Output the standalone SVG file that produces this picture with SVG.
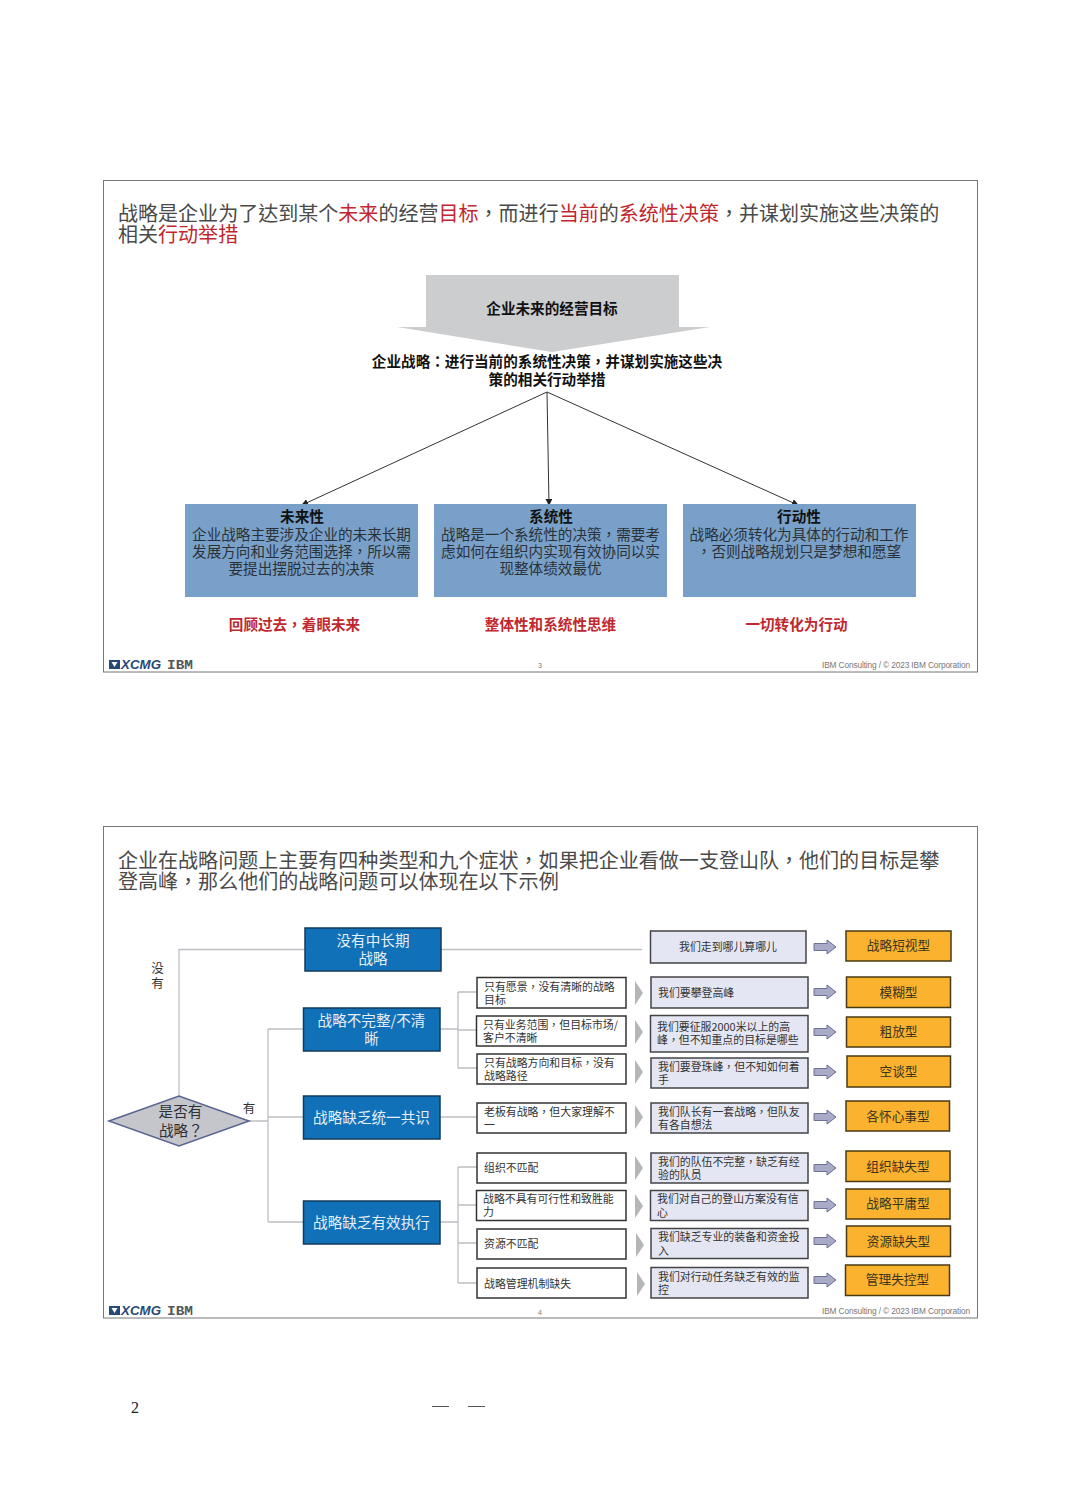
<svg xmlns="http://www.w3.org/2000/svg" width="1080" height="1499" viewBox="0 0 1080 1499">
<style>
text{font-family:"Noto Sans CJK SC","Noto Sans",sans-serif;fill:#333}
.c{font-family:"Noto Sans CJK TC","Noto Sans CJK SC",sans-serif}
.m{text-anchor:middle}
.t{font-size:20.05px;fill:#4a4a4a}
.r{fill:#c0272f}
.hb{font-size:14.6px;font-weight:700;fill:#111}
.b14{font-size:14.6px;fill:#2b3138}
.red{font-size:14.6px;font-weight:700;fill:#c0272f}
.s{font-size:10.9px;fill:#333}
.w{font-size:14.6px;fill:#e6eef6}
.o{font-size:12.7px;fill:#3a3320}
.lb{font-size:12.5px;fill:#333}
.slide{fill:#fff;stroke:#777;stroke-width:1}
.blue1{fill:#78a0c8}
.blue2{fill:#1070b8;stroke:#123a5c;stroke-width:1.5}
.wb{fill:#fff;stroke:#333;stroke-width:1.5}
.lv{fill:#e4e7f3;stroke:#444;stroke-width:1.5}
.or{fill:#fbb22e;stroke:#4a3a14;stroke-width:1.5}
.ch{fill:#b4b6b8}
.ar{fill:#a9aac8;stroke:#6c6f98;stroke-width:1}
.ln{fill:none;stroke:#bcbfc4;stroke-width:1.3}
.dk{fill:none;stroke:#333;stroke-width:1}
.ft{font-size:8.3px;fill:#777;font-family:"Liberation Sans",sans-serif}
.pg{font-size:7px;fill:#777;font-family:"Liberation Sans",sans-serif}
.xc{font-family:"Liberation Sans",sans-serif;font-size:12.5px;font-weight:700;font-style:italic;fill:#264a78}
.ib{font-family:"Liberation Mono",monospace;font-size:12.5px;font-weight:700;fill:#555}
</style>
<defs>
<marker id="ah" viewBox="0 0 8 8" refX="7" refY="4" markerWidth="7" markerHeight="7" orient="auto" markerUnits="userSpaceOnUse"><path d="M0 0L8 4L0 8Z" fill="#222"/></marker>
<path id="chev" d="M0 -12L8 0L0 12L0 -12Z" class="ch"/>
<path id="blk" d="M0 -3.5H13V-7L22 0L13 7V3.5H0Z" class="ar"/>
<g id="logo"><rect x="0" y="-9" width="11" height="9" fill="#264a78"/><path d="M2.5 -7H8.500L5.500 -2Z" fill="#fff"/><text class="xc" x="12" y="0" textLength="40" lengthAdjust="spacingAndGlyphs">XCMG</text><text class="ib" x="58" y="0" textLength="26" lengthAdjust="spacingAndGlyphs">IBM</text></g>
</defs>
<rect width="1080" height="1499" fill="#fff"/>

<g id="slide1">
<rect class="slide" x="103.500" y="180.500" width="874" height="491.500"/>
<text class="t c" x="118" y="221">战略是企业为了达到某个<tspan class="r">未来</tspan>的经营<tspan class="r">目标</tspan>&#xFF0C;而进行<tspan class="r">当前</tspan>的<tspan class="r">系统性决策</tspan>&#xFF0C;并谋划实施这些决策的</text>
<text class="t" x="118" y="242">相关<tspan class="r">行动举措</tspan></text>
</g>
<g id="connectors-1">
<path class="dk" d="M547 392L302 505" marker-end="url(#ah)"/>
<path class="dk" d="M547 392L549 505" marker-end="url(#ah)"/>
<path class="dk" d="M547 392L798 505" marker-end="url(#ah)"/>
</g>
<g id="goal"><path d="M426 275H679V327H710L552 352L397 327H426Z" fill="#cbcdce"/><text class="hb m" x="552" y="314">企业未来的经营目标</text></g>
<g id="strategy"><text class="hb m c" x="547" y="367">企业战略&#xFF1A;进行当前的系统性决策&#xFF0C;并谋划实施这些决</text><text class="hb m" x="547" y="385">策的相关行动举措</text></g>
<g id="future"><rect class="blue1" x="185" y="504" width="233" height="93"/><text class="hb m" x="302" y="522">未来性</text><text class="b14 m" x="301.500" y="540">企业战略主要涉及企业的未来长期</text><text class="b14 m c" x="301.500" y="557">发展方向和业务范围选择&#xFF0C;所以需</text><text class="b14 m" x="301.500" y="574">要提出摆脱过去的决策</text></g>
<g id="system"><rect class="blue1" x="434" y="504" width="233" height="93"/><text class="hb m" x="551" y="522">系统性</text><text class="b14 m c" x="550.500" y="540">战略是一个系统性的决策&#xFF0C;需要考</text><text class="b14 m" x="550.500" y="557">虑如何在组织内实现有效协同以实</text><text class="b14 m" x="550.500" y="574">现整体绩效最优</text></g>
<g id="action"><rect class="blue1" x="683" y="504" width="233" height="93"/><text class="hb m" x="799" y="522">行动性</text><text class="b14 m" x="799" y="540">战略必须转化为具体的行动和工作</text><text class="b14 m c" x="799" y="557">&#xFF0C;否则战略规划只是梦想和愿望</text></g>
<g id="notes1"><text class="red m c" x="294.500" y="630">回顾过去&#xFF0C;着眼未来</text><text class="red m" x="550.500" y="630">整体性和系统性思维</text><text class="red m" x="796.500" y="630">一切转化为行动</text></g>
<g id="footer1"><use href="#logo" x="109" y="669"/><text class="pg m" x="540" y="668">3</text><text class="ft" x="822" y="668" textLength="148">IBM Consulting / © 2023 IBM Corporation</text></g>

<g id="slide2">
<rect class="slide" x="103.500" y="826.500" width="874" height="491.500"/>
<text class="t c" x="118" y="868">企业在战略问题上主要有四种类型和九个症状&#xFF0C;如果把企业看做一支登山队&#xFF0C;他们的目标是攀</text>
<text class="t c" x="118" y="889">登高峰&#xFF0C;那么他们的战略问题可以体现在以下示例</text>
</g>
<g id="connectors-2">
<path class="ln" d="M179 1096V949.500H305M441 949.500H642"/>
<path class="ln" d="M249 1121H268M268 1029V1222M268 1029H304M268 1117H304M268 1222H304"/>
<path class="ln" d="M440 1029H458M458 992V1068M458 992H477M458 1030H477M458 1068H477"/>
<path class="ln" d="M440 1117H477"/>
<path class="ln" d="M440 1222H458M458 1167V1283M458 1167H477M458 1205H477M458 1243H477M458 1283H477"/>
<use href="#chev" x="635" y="993"/><use href="#chev" x="635" y="1032"/><use href="#chev" x="635" y="1072"/><use href="#chev" x="635" y="1117"/><use href="#chev" x="635" y="1168"/><use href="#chev" x="635" y="1206"/><use href="#chev" x="636" y="1245"/><use href="#chev" x="637" y="1284"/>
<use href="#blk" x="814" y="947"/><use href="#blk" x="814" y="992"/><use href="#blk" x="814" y="1032"/><use href="#blk" x="814" y="1072"/><use href="#blk" x="814" y="1117"/><use href="#blk" x="814" y="1168"/><use href="#blk" x="814" y="1205"/><use href="#blk" x="814" y="1241"/><use href="#blk" x="814" y="1280"/>
</g>
<g id="decision"><path d="M109 1121L179 1096L249 1121L179 1146Z" fill="#c4c6cb" stroke="#5a6490" stroke-width="1.500"/><text class="b14 m" x="180.500" y="1117">是否有</text><text class="b14 c" x="159" y="1136">战略&#xFF1F;</text></g>
<g id="label-no"><text class="lb m" x="157.500" y="973">没</text><text class="lb m" x="157.500" y="988">有</text></g>
<g id="label-yes"><text class="lb m" x="249" y="1113">有</text></g>

<g id="cat1"><rect class="blue2" x="305" y="928" width="136" height="43"/><text class="w m" x="373" y="946">没有中长期</text><text class="w m" x="373" y="964">战略</text></g>
<g id="cat2"><rect class="blue2" x="303.500" y="1008" width="136.500" height="43"/><text class="w m" x="371.500" y="1026">战略不完整/不清</text><text class="w m" x="371.500" y="1044">晰</text></g>
<g id="cat3"><rect class="blue2" x="303.500" y="1096" width="136.500" height="43"/><text class="w m" x="371.500" y="1123">战略缺乏统一共识</text></g>
<g id="cat4"><rect class="blue2" x="303.500" y="1201" width="136.500" height="43"/><text class="w m" x="371.500" y="1228">战略缺乏有效执行</text></g>

<g id="symptom1"><rect class="wb" x="477" y="977.500" width="149" height="30.500"/><text class="s c" x="484" y="991">只有愿景&#xFF0C;没有清晰的战略</text><text class="s" x="484" y="1004">目标</text></g>
<g id="symptom2"><rect class="wb" x="476.500" y="1016" width="149.500" height="30"/><text class="s c" x="483" y="1029">只有业务范围&#xFF0C;但目标市场/</text><text class="s" x="483" y="1042">客户不清晰</text></g>
<g id="symptom3"><rect class="wb" x="477" y="1054" width="149" height="30"/><text class="s c" x="484" y="1067">只有战略方向和目标&#xFF0C;没有</text><text class="s" x="484" y="1080">战略路径</text></g>
<g id="symptom4"><rect class="wb" x="477" y="1103" width="149" height="30"/><text class="s c" x="484" y="1116">老板有战略&#xFF0C;但大家理解不</text><text class="s" x="484" y="1129">一</text></g>
<g id="symptom5"><rect class="wb" x="477" y="1153" width="149" height="30"/><text class="s" x="484" y="1172">组织不匹配</text></g>
<g id="symptom6"><rect class="wb" x="476.500" y="1190.500" width="149.500" height="30"/><text class="s" x="483" y="1203">战略不具有可行性和致胜能</text><text class="s" x="483" y="1216">力</text></g>
<g id="symptom7"><rect class="wb" x="477" y="1229" width="149" height="30"/><text class="s" x="484" y="1248">资源不匹配</text></g>
<g id="symptom8"><rect class="wb" x="477" y="1268" width="149" height="30"/><text class="s" x="484" y="1288">战略管理机制缺失</text></g>

<g id="ex0"><rect class="lv" x="650.500" y="931" width="155.500" height="32"/><text class="s m" x="728" y="951">我们走到哪儿算哪儿</text></g>
<g id="ex1"><rect class="lv" x="651" y="977" width="157" height="31"/><text class="s" x="658" y="997">我们要攀登高峰</text></g>
<g id="ex2"><rect class="lv" x="650.500" y="1015.500" width="157.500" height="36.500"/><text class="s" x="657" y="1031">我们要征服2000米以上的高</text><text class="s c" x="657" y="1044">峰&#xFF0C;但不知重点的目标是哪些</text></g>
<g id="ex3"><rect class="lv" x="651" y="1058" width="157" height="30"/><text class="s c" x="658" y="1071">我们要登珠峰&#xFF0C;但不知如何着</text><text class="s" x="658" y="1084">手</text></g>
<g id="ex4"><rect class="lv" x="651" y="1103" width="157" height="30"/><text class="s c" x="658" y="1116">我们队长有一套战略&#xFF0C;但队友</text><text class="s" x="658" y="1129">有各自想法</text></g>
<g id="ex5"><rect class="lv" x="651" y="1153" width="157" height="30"/><text class="s c" x="658" y="1166">我们的队伍不完整&#xFF0C;缺乏有经</text><text class="s" x="658" y="1179">验的队员</text></g>
<g id="ex6"><rect class="lv" x="650.500" y="1190.500" width="157.500" height="30"/><text class="s" x="657" y="1203">我们对自己的登山方案没有信</text><text class="s" x="657" y="1217">心</text></g>
<g id="ex7"><rect class="lv" x="651" y="1228.500" width="157" height="30"/><text class="s" x="658" y="1241">我们缺乏专业的装备和资金投</text><text class="s" x="658" y="1255">入</text></g>
<g id="ex8"><rect class="lv" x="651" y="1267.500" width="157" height="30.500"/><text class="s" x="658" y="1281">我们对行动任务缺乏有效的监</text><text class="s" x="658" y="1294">控</text></g>

<g id="type0"><rect class="or" x="846" y="931" width="105" height="30"/><text class="o m" x="898.500" y="950">战略短视型</text></g>
<g id="type1"><rect class="or" x="846.500" y="977" width="104" height="30.500"/><text class="o m" x="898.500" y="997">模糊型</text></g>
<g id="type2"><rect class="or" x="846.500" y="1017" width="104" height="30"/><text class="o m" x="898.500" y="1036">粗放型</text></g>
<g id="type3"><rect class="or" x="847" y="1056" width="103.500" height="31"/><text class="o m" x="898.500" y="1076">空谈型</text></g>
<g id="type4"><rect class="or" x="846" y="1101" width="103.500" height="30"/><text class="o m" x="898" y="1121">各怀心事型</text></g>
<g id="type5"><rect class="or" x="846" y="1151" width="104" height="30.500"/><text class="o m" x="898" y="1171">组织缺失型</text></g>
<g id="type6"><rect class="or" x="846" y="1189" width="104" height="30"/><text class="o m" x="898" y="1208">战略平庸型</text></g>
<g id="type7"><rect class="or" x="846.500" y="1226" width="104" height="30.500"/><text class="o m" x="898.500" y="1246">资源缺失型</text></g>
<g id="type8"><rect class="or" x="845.500" y="1265" width="104" height="30.500"/><text class="o m" x="897.500" y="1284">管理失控型</text></g>
<g id="footer2"><use href="#logo" x="109" y="1315"/><text class="pg m" x="540" y="1315">4</text><text class="ft" x="822" y="1314" textLength="148">IBM Consulting / © 2023 IBM Corporation</text></g>

<g id="page"><text x="131" y="1413" style="font-family:'Liberation Serif',serif;font-size:16px;fill:#222">2</text><path d="M432 1406.500H449M468 1406.500H485" stroke="#555" stroke-width="1.200" fill="none"/></g>
</svg>
